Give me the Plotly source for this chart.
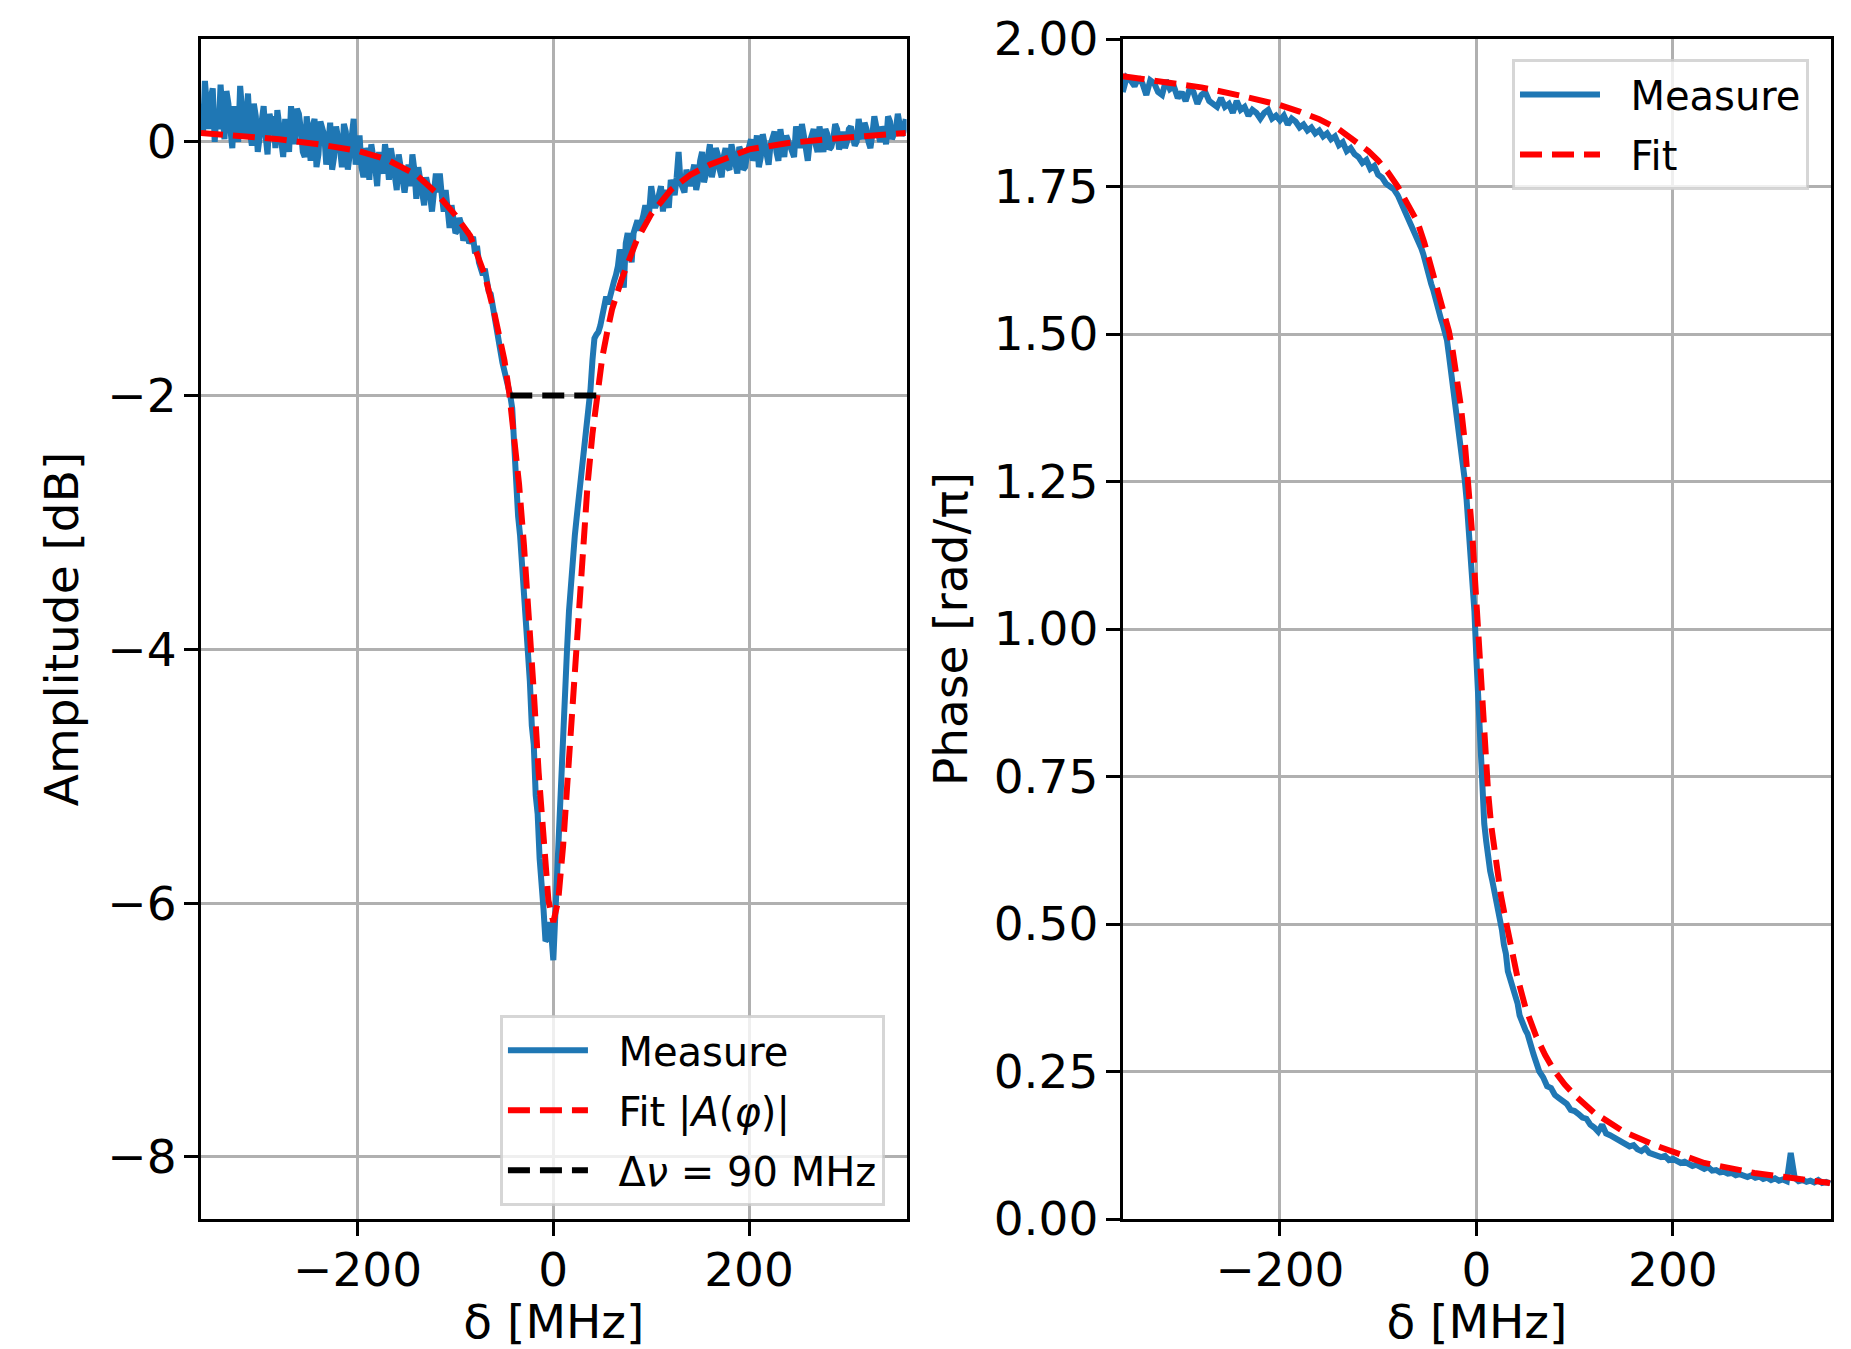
import plotly.graph_objects as go

# ---------------- data ----------------
# Left panel: amplitude [dB] vs detuning delta [MHz]
amp_x = list(range(-360, -43, 4)) + list(range(-42, 45, 2)) + list(range(48, 361, 4))
amp_meas = [
    0.30, 0.48, 0.10, 0.42, 0.25, 0.45, 0.02, 0.30, -0.05, 0.12, 0.44, 0.05, 0.38, -0.03,
    0.20, 0.08, 0.28, -0.10, 0.15, -0.05, 0.10, -0.12, 0.05, 0.28, -0.02, 0.22, -0.08,
    0.20, -0.15, 0.18, -0.10, 0.12, -0.18, 0.15, -0.12, 0.05, -0.20, 0.08, -0.10, 0.18, -0.05,
    -0.20, -0.05, -0.30, -0.12, -0.35, -0.18, -0.02, -0.30, -0.15, -0.38, -0.22, -0.40,
    -0.18, -0.10, -0.45, -0.30, -0.50, -0.35, -0.55, -0.25, -0.25, -0.55, -0.62, -0.50,
    -0.72, -0.60, -0.78, -0.70, -0.78, -0.88, -0.95, -1.05, -1.10, -1.20, -1.42, -1.60,
    -1.74, -1.85, -2.00,
    -2.10, -2.45, -2.75, -2.95, -3.10, -3.30, -3.50, -3.85, -4.05, -4.25, -4.60, -4.75,
    -5.15, -5.30, -5.65, -5.80, -6.05, -6.30, -6.28, -6.15, -6.25, -6.45, -6.10, -5.75,
    -5.15, -4.85, -4.55, -4.20, -4.00, -3.70, -3.45, -3.35, -3.10, -2.95, -2.80, -2.65,
    -2.52, -2.45, -2.20, -2.08, -1.95, -1.72, -1.55, -1.52,
    -1.45, -1.30, -1.28, -1.12, -1.05, -0.85, -1.15, -0.72, -0.95, -0.66, -0.70, -0.58,
    -0.60, -0.35, -0.52, -0.40, -0.55, -0.45, -0.30, -0.42, -0.08, -0.38, -0.22, -0.35,
    -0.18, -0.30, -0.08, -0.25, -0.02, -0.20, -0.10, -0.28, -0.05, -0.22, -0.12, -0.25,
    -0.08, -0.20, -0.02, -0.15, 0.05, -0.12, -0.02, -0.18, 0.03, -0.08, 0.10, -0.12,
    0.00, -0.10, 0.12, -0.05, 0.05, -0.15, 0.08, -0.02, 0.12, -0.08, 0.06, -0.04, 0.14,
    -0.06, 0.08, 0.00, 0.12, -0.03, 0.18, 0.02, 0.10, -0.05, 0.20, 0.04, 0.12, -0.02,
    0.16, 0.06, 0.22, 0.05, 0.18,
]
# intermediate samples of the measured amplitude (noisy wings)
amp_x_mid = list(range(-358, -45, 4)) + list(range(46, 359, 4))
amp_meas_mid = [
    0.05, 0.20, 0.35, 0.00, 0.10, 0.22, 0.40, 0.10, 0.28, 0.00, 0.18, 0.15, 0.08, 0.30,
    -0.08, 0.18, 0.05, 0.22, 0.20, 0.25, 0.05, 0.18, -0.08, 0.10, 0.26, 0.10, -0.12, 0.05,
    0.12, -0.20, 0.16, 0.05, 0.00, -0.22, 0.12, -0.05, 0.14, -0.22, 0.05, -0.18, 0.05,
    -0.28, -0.10, -0.02, -0.20, -0.08, -0.25, -0.12, -0.05, -0.28, -0.10, -0.30, -0.28,
    -0.35, -0.22, -0.20, -0.38, -0.28, -0.42, -0.32, -0.40, -0.42, -0.38, -0.68, -0.58,
    -0.70, -0.65, -0.72, -0.80, -0.75, -0.82, -1.02, -1.00, -1.18, -1.30, -1.52, -1.65,
    -1.80, -1.92,
    -1.50, -1.38, -1.22, -1.20, -1.10, -0.98, -0.90, -0.80, -0.82, -0.72, -0.62, -0.65,
    -0.50, -0.55, -0.45, -0.48, -0.35, -0.38, -0.52, -0.35, -0.28, -0.32, -0.40, -0.28,
    -0.25, -0.38, -0.15, -0.32, -0.12, -0.28, -0.05, -0.22, -0.12, -0.20, -0.02, -0.18,
    -0.04, -0.22, -0.10, 0.02, -0.08, -0.20, 0.06, -0.10, -0.02, 0.08, -0.15, 0.02, 0.05,
    -0.05, -0.12, 0.06, 0.14, -0.08, 0.00, 0.10, -0.08, 0.02, 0.10, -0.06, 0.02, 0.10,
    0.00, -0.05, 0.10, 0.04, 0.00, 0.08, 0.15, 0.00, 0.06, 0.12, 0.00, 0.08, 0.20, 0.02,
    0.10, 0.14, 0.08,
]
fit_amp_x = [-360, -320, -280, -240, -200, -170, -140, -120, -100, -85, -70, -60, -50, -45,
             -40, -35, -30, -25, -20, -15, -10, -5, 0, 5, 10, 15, 20, 25, 30, 35, 40, 45,
             50, 55, 60, 70, 85, 100, 120, 140, 160, 200, 240, 280, 320, 360]
fit_amp_y = [0.07, 0.05, 0.02, -0.02, -0.07, -0.14, -0.26, -0.40, -0.58, -0.74, -1.05, -1.36,
             -1.72, -1.98, -2.30, -2.70, -3.18, -3.72, -4.33, -4.97, -5.55, -5.98, -6.15,
             -5.98, -5.55, -4.97, -4.33, -3.72, -3.18, -2.70, -2.30, -1.98, -1.70, -1.50,
             -1.32, -1.08, -0.78, -0.57, -0.38, -0.26, -0.18, -0.06, -0.01, 0.02, 0.05, 0.07]
dnu_x = [-44, 44]
dnu_y = [-2, -2]

# Right panel: phase [rad/pi] vs detuning
ph_x = list(range(-360, -59, 4)) + list(range(-58, 59, 2)) + list(range(60, 361, 4))
ph_meas = [
    1.91, 1.935, 1.93, 1.92, 1.935, 1.925, 1.905, 1.93, 1.925, 1.91, 1.905, 1.93, 1.915,
    1.92, 1.90, 1.91, 1.895, 1.915, 1.91, 1.89, 1.905, 1.91, 1.895, 1.89, 1.885, 1.90,
    1.885, 1.89, 1.875, 1.895, 1.88, 1.885, 1.87, 1.88, 1.875, 1.865, 1.875, 1.88, 1.865,
    1.87, 1.862, 1.87, 1.855, 1.865, 1.86, 1.85, 1.855, 1.845, 1.85, 1.84, 1.845, 1.835,
    1.84, 1.83, 1.835, 1.82, 1.825, 1.81, 1.815, 1.805, 1.80, 1.79, 1.795, 1.78, 1.785,
    1.77, 1.765, 1.755, 1.75, 1.745, 1.735, 1.72, 1.705, 1.695, 1.675, 1.66,
    1.655, 1.645, 1.635, 1.62, 1.61, 1.60, 1.585, 1.575, 1.56, 1.55, 1.535, 1.525, 1.515,
    1.505, 1.49, 1.465, 1.44, 1.415, 1.39, 1.365, 1.34, 1.315, 1.29, 1.255, 1.22, 1.18,
    1.14, 1.10, 1.03, 0.95, 0.88, 0.80, 0.72, 0.67, 0.64, 0.61, 0.59, 0.575, 0.56, 0.545,
    0.52, 0.505, 0.49, 0.465, 0.45, 0.42, 0.41, 0.395, 0.385, 0.38, 0.365, 0.345, 0.335,
    0.325, 0.32, 0.314, 0.30, 0.29, 0.28,
    0.27, 0.25, 0.24, 0.225, 0.222, 0.21, 0.205, 0.20, 0.195, 0.185, 0.183, 0.178, 0.172,
    0.17, 0.16, 0.155, 0.148, 0.16, 0.145, 0.142, 0.138, 0.135, 0.13, 0.128, 0.123, 0.125,
    0.118, 0.115, 0.12, 0.112, 0.11, 0.108, 0.105, 0.107, 0.10, 0.102, 0.098, 0.095, 0.097,
    0.092, 0.09, 0.092, 0.087, 0.085, 0.088, 0.082, 0.083, 0.079, 0.08, 0.077, 0.078,
    0.074, 0.076, 0.073, 0.071, 0.074, 0.07, 0.072, 0.068, 0.07, 0.066, 0.069, 0.065,
    0.067, 0.064, 0.112, 0.07, 0.064, 0.066, 0.063, 0.065, 0.062, 0.066, 0.061, 0.063, 0.06,
]
fit_ph_x = [-360, -320, -280, -240, -200, -180, -160, -140, -125, -110, -100, -90, -80, -70,
            -60, -53, -46, -40, -35, -30, -28, -24, -20, -16, -12, -8, -6, -4, -2, 0, 2, 4,
            6, 8, 10, 12, 15, 20, 25, 30, 35, 42, 50, 61, 70, 79, 90, 100, 120, 150, 185,
            232, 283, 320, 360]
fit_ph_y = [1.937, 1.928, 1.918, 1.904, 1.888, 1.877, 1.864, 1.847, 1.830, 1.810, 1.794,
            1.774, 1.75, 1.722, 1.69, 1.655, 1.615, 1.58, 1.552, 1.52, 1.505, 1.47, 1.43,
            1.38, 1.32, 1.25, 1.205, 1.155, 1.10, 1.04, 0.98, 0.92, 0.865, 0.812, 0.765,
            0.722, 0.668, 0.60, 0.548, 0.505, 0.462, 0.408, 0.358, 0.309, 0.278, 0.252,
            0.228, 0.21, 0.18, 0.148, 0.123, 0.095, 0.078, 0.069, 0.061]

assert len(amp_x) == len(amp_meas), (len(amp_x), len(amp_meas))
assert len(amp_x_mid) == len(amp_meas_mid), (len(amp_x_mid), len(amp_meas_mid))
assert len(ph_x) == len(ph_meas), (len(ph_x), len(ph_meas))
assert len(fit_amp_x) == len(fit_amp_y)
assert len(fit_ph_x) == len(fit_ph_y), (len(fit_ph_x), len(fit_ph_y))

# merge measured amplitude samples in detuning order
amp_pairs = sorted(zip(amp_x + amp_x_mid, amp_meas + amp_meas_mid))
amp_all_x = [p[0] for p in amp_pairs]
amp_all_y = [p[1] for p in amp_pairs]

# ---------------- figure ----------------
BLUE = "#1f77b4"
DASH = "22px,10px"
FONT = "DejaVu Sans"
PAD = "\u00a0\u00a0"
AX_FS = 47   # tick labels and axis titles
LEG_FS = 40  # legend text

fig = go.Figure()
fig.add_trace(go.Scatter(x=amp_all_x, y=amp_all_y, mode="lines", name=PAD + "Measure",
                         line=dict(color=BLUE, width=6), xaxis="x", yaxis="y",
                         legend="legend", legendgroup="a1"))
fig.add_trace(go.Scatter(x=fit_amp_x, y=fit_amp_y, mode="lines",
                         name=PAD + "Fit |<i>A</i>(<i>φ</i>)|",
                         line=dict(color="red", width=6, dash=DASH), xaxis="x", yaxis="y",
                         legend="legend", legendgroup="a2"))
fig.add_trace(go.Scatter(x=dnu_x, y=dnu_y, mode="lines", name=PAD + "Δ<i>ν</i> = 90 MHz",
                         line=dict(color="black", width=6, dash=DASH), xaxis="x", yaxis="y",
                         legend="legend", legendgroup="a3"))
fig.add_trace(go.Scatter(x=ph_x, y=ph_meas, mode="lines", name=PAD + "Measure",
                         line=dict(color=BLUE, width=6), xaxis="x2", yaxis="y2",
                         legend="legend2", legendgroup="p1"))
fig.add_trace(go.Scatter(x=fit_ph_x, y=fit_ph_y, mode="lines", name=PAD + "Fit",
                         line=dict(color="red", width=6, dash=DASH), xaxis="x2", yaxis="y2",
                         legend="legend2", legendgroup="p2"))

axis_common = dict(
    showline=True, linecolor="black", linewidth=3, mirror=True,
    ticks="outside", ticklen=14, tickwidth=3, tickcolor="black",
    showgrid=True, gridcolor="#b0b0b0", gridwidth=3, zeroline=False,
    tickfont=dict(family=FONT, size=AX_FS, color="black"),
    automargin=False,
)

legend_common = dict(
    bgcolor="rgba(255,255,255,0.8)", bordercolor="rgba(204,204,204,0.8)", borderwidth=3,
    font=dict(family=FONT, size=LEG_FS, color="black"), xanchor="right", yanchor="top",
    tracegroupgap=5, itemwidth=80,
)

fig.update_layout(
    width=1843, height=1341,
    margin=dict(l=193, r=20, t=31, b=130),
    plot_bgcolor="white", paper_bgcolor="white",
    font=dict(family=FONT, size=AX_FS, color="black"),
    xaxis=dict(domain=[0, 0.4329], range=[-360, 361], tickvals=[-200, 0, 200],
               anchor="y", ticklabelstandoff=-6,
               title=dict(text="δ [MHz]", standoff=26, font=dict(family=FONT, size=AX_FS)),
               **axis_common),
    yaxis=dict(domain=[0, 1], range=[-8.49, 0.81], tickvals=[-8, -6, -4, -2, 0],
               anchor="x", ticklabelstandoff=-2,
               title=dict(text="Amplitude [dB]", standoff=14,
                          font=dict(family=FONT, size=AX_FS)),
               **axis_common),
    xaxis2=dict(domain=[0.5655, 1], range=[-360, 361], tickvals=[-200, 0, 200],
                anchor="y2", ticklabelstandoff=-6,
                title=dict(text="δ [MHz]", standoff=26, font=dict(family=FONT, size=AX_FS)),
                **axis_common),
    yaxis2=dict(domain=[0, 1], range=[0, 2],
                tickvals=[0, 0.25, 0.5, 0.75, 1.0, 1.25, 1.5, 1.75, 2.0], tickformat=".2f",
                anchor="x2", ticklabelstandoff=-2,
                title=dict(text="Phase [rad/π]", standoff=12,
                           font=dict(family=FONT, size=AX_FS)),
                **axis_common),
    legend=dict(x=0.4196, y=0.173, **legend_common),
    legend2=dict(x=0.9865, y=0.983, **legend_common),
)

fig.write_html("out.html")
